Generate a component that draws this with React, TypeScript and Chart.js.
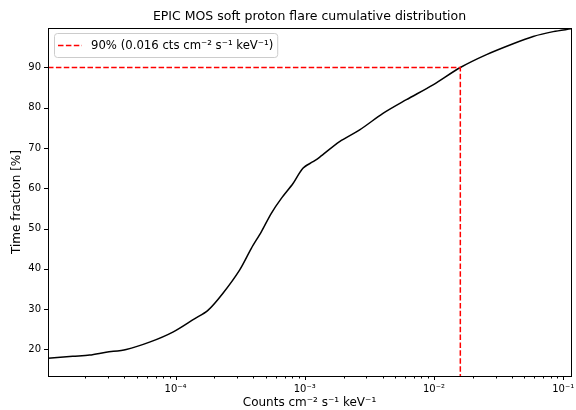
import React, { useEffect, useRef } from "react";
import { Chart, registerables } from "chart.js";

Chart.register(...registerables);

// Soft proton flare rate (cts cm^-2 s^-1 keV^-1) and cumulative time fraction (%)
const FLUX = [
  1.03e-5, 1.6e-5, 2.16e-5, 2.9e-5, 4.15e-5, 6.29e-5, 9.53e-5, 1.4e-4, 1.78e-4,
  2.32e-4, 3.13e-4, 3.86e-4, 4.61e-4, 5.51e-4, 6.59e-4, 8.11e-4, 9.68e-4, 1.158e-3,
  1.3e-3, 1.86e-3, 2.66e-3, 4.03e-3, 6.12e-3, 9.84e-3, 1.6e-2, 2.55e-2, 4.1e-2,
  5.86e-2, 8.37e-2, 0.115,
];
const TIME_FRACTION = [
  17.8, 18.3, 18.6, 19.3, 20.0, 21.8, 24.3, 27.6, 29.7, 33.9, 39.7, 45.1, 49.2,
  53.8, 57.5, 61.2, 65.0, 66.6, 67.7, 71.6, 74.5, 78.6, 82.0, 85.7, 90.0, 93.2,
  95.9, 97.7, 98.9, 99.6,
];

const THRESHOLD_PCT = 90;
const THRESHOLD_FLUX = 0.016;

const X_MIN = 1.03e-5;
const X_MAX = 0.115;
const Y_MIN = 13.4;
const Y_MAX = 99.8;

const X_MAJOR = [1e-4, 1e-3, 1e-2, 1e-1];
const Y_TICKS = [20, 30, 40, 50, 60, 70, 80, 90];

const TITLE = "EPIC MOS soft proton flare cumulative distribution";
const X_LABEL = "Counts cm\u207b\u00b2 s\u207b\u00b9 keV\u207b\u00b9";
const Y_LABEL = "Time fraction [%]";
const LEGEND_LABEL = `${THRESHOLD_PCT}% (${THRESHOLD_FLUX} cts cm\u207b\u00b2 s\u207b\u00b9 keV\u207b\u00b9)`;

const FONT = "'DejaVu Sans', sans-serif";

const SUP: Record<string, string> = {
  "-": "\u207b", "0": "\u2070", "1": "\u00b9", "2": "\u00b2", "3": "\u00b3",
  "4": "\u2074", "5": "\u2075", "6": "\u2076", "7": "\u2077", "8": "\u2078", "9": "\u2079",
};
const sup = (s: string) => s.split("").map((c) => SUP[c] ?? c).join("");

function minorTicks(): number[] {
  const out: number[] = [];
  for (let e = -6; e <= 0; e++) {
    for (let k = 2; k <= 9; k++) {
      const v = k * Math.pow(10, e);
      if (v >= X_MIN && v <= X_MAX) out.push(v);
    }
  }
  return out;
}

const framePlugin = {
  id: "frameAndLegend",
  afterDraw(chart: any) {
    const { ctx, chartArea } = chart;
    const xs = chart.scales.x;
    const ys = chart.scales.y;
    const { left, right, top, bottom } = chartArea;
    ctx.save();
    ctx.strokeStyle = "#000";
    ctx.lineWidth = 1;
    ctx.strokeRect(Math.round(left) + 0.5, Math.round(top) + 0.5, Math.round(right - left), Math.round(bottom - top));

    // tick marks
    ctx.beginPath();
    X_MAJOR.forEach((v) => {
      const px = Math.round(xs.getPixelForValue(v)) + 0.5;
      ctx.moveTo(px, bottom);
      ctx.lineTo(px, bottom + 4);
    });
    minorTicks().forEach((v) => {
      const px = Math.round(xs.getPixelForValue(v)) + 0.5;
      ctx.moveTo(px, bottom);
      ctx.lineTo(px, bottom + 2.5);
    });
    Y_TICKS.forEach((v) => {
      const py = Math.round(ys.getPixelForValue(v)) + 0.5;
      ctx.moveTo(left, py);
      ctx.lineTo(left - 4, py);
    });
    ctx.stroke();

    // legend
    ctx.font = `11.7px ${FONT}`;
    const textW = ctx.measureText(LEGEND_LABEL).width;
    const bx = left + 6;
    const by = top + 5;
    const bw = 37 + textW + 4;
    const bh = 24;
    ctx.beginPath();
    (ctx as any).roundRect(bx + 0.5, by + 0.5, bw, bh, 3);
    ctx.fillStyle = "rgba(255,255,255,0.8)";
    ctx.fill();
    ctx.strokeStyle = "#cccccc";
    ctx.stroke();
    const ly = by + bh / 2 + 0.5;
    ctx.beginPath();
    ctx.setLineDash([5.5, 2.4]);
    ctx.strokeStyle = "red";
    ctx.lineWidth = 1.5;
    ctx.moveTo(bx + 4, ly);
    ctx.lineTo(bx + 28, ly);
    ctx.stroke();
    ctx.setLineDash([]);
    ctx.fillStyle = "#000";
    ctx.textBaseline = "middle";
    ctx.textAlign = "left";
    ctx.fillText(LEGEND_LABEL, bx + 37, ly);
    ctx.restore();
  },
};

export default function App() {
  const canvasRef = useRef<HTMLCanvasElement | null>(null);

  useEffect(() => {
    const canvas = canvasRef.current;
    if (!canvas) return;
    const curve = FLUX.map((x, i) => ({ x, y: TIME_FRACTION[i] }));
    const threshold = [
      { x: X_MIN, y: THRESHOLD_PCT },
      { x: THRESHOLD_FLUX, y: THRESHOLD_PCT },
      { x: THRESHOLD_FLUX, y: Y_MIN },
    ];
    const chart = new Chart(canvas, {
      type: "line",
      data: {
        datasets: [
          {
            label: LEGEND_LABEL,
            data: threshold,
            borderColor: "red",
            borderWidth: 1.5,
            borderDash: [5.5, 2.4],
            pointRadius: 0,
            tension: 0,
          },
          {
            label: "cumulative",
            data: curve,
            borderColor: "#000",
            borderWidth: 1.5,
            pointRadius: 0,
            tension: 0.3,
          },
        ],
      },
      options: {
        animation: false,
        responsive: false,
        devicePixelRatio: 1,
        layout: { padding: { left: 0, right: 5, top: 0, bottom: 0 } },
        plugins: {
          legend: { display: false },
          tooltip: { enabled: false },
          title: {
            display: true,
            text: TITLE,
            fullSize: false,
            color: "#000",
            font: { family: FONT, size: 12.5, weight: "normal" },
            padding: { top: 9, bottom: 4 },
          },
        },
        scales: {
          x: {
            type: "logarithmic",
            min: X_MIN,
            max: X_MAX,
            grid: { display: false, drawTicks: false },
            border: { display: false },
            afterBuildTicks: (scale: any) => {
              scale.ticks = X_MAJOR.map((v) => ({ value: v }));
            },
            afterFit: (scale: any) => {
              scale.height = 34;
              scale.paddingLeft = 0;
              scale.paddingRight = 0;
            },
            ticks: {
              autoSkip: false,
              maxRotation: 0,
              padding: 7,
              color: "#000",
              font: { family: FONT, size: 10 },
              callback: (v: any) => "10" + sup(String(Math.round(Math.log10(Number(v))))),
            },
            title: {
              display: true,
              text: X_LABEL,
              color: "#000",
              font: { family: FONT, size: 12 },
              padding: { top: 0, bottom: 0 },
            },
          },
          y: {
            type: "linear",
            min: Y_MIN,
            max: Y_MAX,
            grid: { display: false, drawTicks: false },
            border: { display: false },
            afterBuildTicks: (scale: any) => {
              scale.ticks = Y_TICKS.map((v) => ({ value: v }));
            },
            afterFit: (scale: any) => {
              scale.width = 48;
              scale.paddingTop = 0;
              scale.paddingBottom = 0;
            },
            ticks: {
              padding: 7,
              color: "#000",
              font: { family: FONT, size: 10 },
              callback: (v: any) => String(v),
            },
            title: {
              display: true,
              text: Y_LABEL,
              color: "#000",
              font: { family: FONT, size: 12 },
              padding: { top: 10, bottom: 0 },
            },
          },
        },
      },
      plugins: [framePlugin],
    } as any);
    return () => chart.destroy();
  }, []);

  return (
    <div style={{ position: "absolute", left: 0, top: 0, width: 576, height: 410, background: "#fff" }}>
      <canvas ref={canvasRef} width={576} height={410} style={{ display: "block" }} />
    </div>
  );
}
